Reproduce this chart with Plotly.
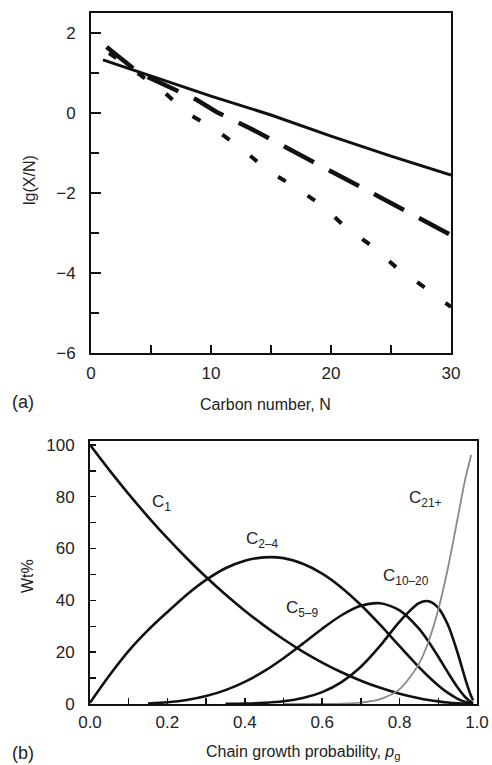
import plotly.graph_objects as go

# ---------------- panel (a) data ----------------
solid_N = [1, 5, 10, 15, 20, 25, 30]
solid_y = [1.33, 0.92, 0.42, -0.05, -0.58, -1.08, -1.55]

dash_N = [1.3, 4, 8.8, 10.5, 13.25, 16.5, 20.8, 25, 30]
dash_y = [1.65, 1.0, 0.33, 0.02, -0.38, -0.9, -1.6, -2.28, -3.05]

dot_N = [1.5, 6, 8, 10.3, 12.6, 14.8, 17, 19.2, 21.2, 23.3, 25.6, 28, 30]
dot_y = [1.5, 0.55, 0.0, -0.4, -0.9, -1.45, -1.85, -2.3, -2.85, -3.3, -3.9, -4.4, -4.85]

# ---------------- panel (b) data ----------------
alpha = [0.0, 0.05, 0.1, 0.15, 0.2, 0.25, 0.3, 0.35, 0.4, 0.45, 0.5, 0.55, 0.6,
         0.65, 0.7, 0.75, 0.8, 0.85, 0.875, 0.9, 0.925, 0.95, 0.97, 0.985, 0.99]
c1 = [100, 90.25, 81, 72.25, 64, 56.25, 49, 42.25, 36, 30.25, 25, 20.25, 16,
      12.25, 9, 6.25, 4, 2.25, 1.56, 1.0, 0.56, 0.25, 0.09, 0.02, 0.01]
c2_4 = [0.5, 11, 20.5, 28.5, 35.5, 42.2, 47.9, 52.4, 55.3, 56.6, 56.3, 54.1, 50.3,
        44.9, 38.2, 30.5, 22.3, 14.2, 10.5, 7.15, 4.27, 2.01, 0.76, 0.20, 0.09]
c5_9 = [None, None, None, 0.22, 0.67, 1.56, 3.06, 5.35, 8.54, 12.67, 17.68, 23.3, 29.06,
        34.25, 37.89, 38.88, 36.15, 29.09, 24.04, 18.24, 12.13, 6.35, 2.60, 0.72, 0.33]
c10_20 = [None, None, None, None, None, None, None, 0.05, 0.17, 0.45, 1.07, 2.32, 4.60,
          8.45, 14.37, 22.5, 31.82, 38.93, 39.67, 37.14, 30.47, 19.69, 9.54, 2.98, 1.42]
c21 = [None, None, None, None, None, None, None, None, None, None, 0.0, 0.01, 0.03,
       0.15, 0.56, 1.90, 5.76, 15.5, 24.22, 36.47, 52.57, 71.7, 87.01, 96.09, None]

FONT = "Liberation Sans, Arial, Helvetica, sans-serif"
INK = "#111111"
TXT = "#222222"
W, H = 492, 765


def fx(px):
    return px / W


def fy(py):
    return 1 - py / H


fig = go.Figure()

fig.add_trace(go.Scatter(x=solid_N, y=solid_y, mode="lines",
                         line=dict(color=INK, width=3), xaxis="x", yaxis="y"))
fig.add_trace(go.Scatter(x=dash_N, y=dash_y, mode="lines",
                         line=dict(color=INK, width=4.5, dash="34px,17px"), xaxis="x", yaxis="y"))
fig.add_trace(go.Scatter(x=dot_N, y=dot_y, mode="lines",
                         line=dict(color=INK, width=4, dash="9px,26px"), xaxis="x", yaxis="y"))

for ys in (c1, c2_4, c5_9, c10_20):
    fig.add_trace(go.Scatter(x=alpha, y=ys, mode="lines",
                             line=dict(color=INK, width=2.6, shape="spline", smoothing=0.8),
                             xaxis="x2", yaxis="y2"))
fig.add_trace(go.Scatter(x=alpha, y=c21, mode="lines",
                         line=dict(color="#8a8a8a", width=1.8, shape="spline", smoothing=0.8),
                         xaxis="x2", yaxis="y2"))

tickfont = dict(family=FONT, size=17, color=TXT)
common = dict(showline=True, linecolor=INK, linewidth=2, mirror=True, showgrid=False,
              zeroline=False, ticks="inside", tickcolor=INK, tickwidth=1.5,
              tickfont=tickfont, automargin=False, ticklabeloverflow="allow")

fig.update_layout(
    template="none",
    width=W, height=H, margin=dict(l=0, r=0, t=0, b=0, pad=0, autoexpand=False),
    paper_bgcolor="white", plot_bgcolor="white", showlegend=False,
    xaxis=dict(domain=[fx(91), fx(451)], range=[0, 30], anchor="y",
               tick0=0, dtick=10, ticklen=8,
               minor=dict(dtick=5, ticks="inside", ticklen=8, tickcolor=INK, tickwidth=1.5),
               ticklabelstandoff=4, **common),
    yaxis=dict(domain=[fy(353), fy(13)], range=[-6, 2.5], anchor="x",
               tick0=0, dtick=2, ticklen=10,
               minor=dict(dtick=1, ticks="inside", ticklen=8, tickcolor=INK, tickwidth=1.5),
               ticklabelstandoff=10, **common),
    xaxis2=dict(domain=[fx(90), fx(477)], range=[0, 1], anchor="y2",
                tick0=0, dtick=0.2, tickformat=".1f", ticklen=6,
                minor=dict(dtick=0.1, ticks="inside", ticklen=6, tickcolor=INK, tickwidth=1.5),
                ticklabelstandoff=2, **common),
    yaxis2=dict(domain=[fy(704), fy(441)], range=[0, 101.5], anchor="x2",
                tick0=0, dtick=20, ticklen=6,
                minor=dict(dtick=10, ticks="inside", ticklen=6, tickcolor=INK, tickwidth=1.5),
                ticklabelstandoff=10, **common),
)


def paper_text(text, px, py, angle=0, size=17):
    fig.add_annotation(text=text, x=fx(px), y=fy(py), xref="paper", yref="paper",
                       showarrow=False, textangle=angle, xanchor="center", yanchor="middle",
                       font=dict(family=FONT, size=size, color=TXT))


paper_text("lg(X/N)", 29, 180, angle=-90, size=16)
paper_text("Carbon number, N", 265, 404, size=16)
paper_text("(a)", 23, 402, size=18)
paper_text("Wt%", 27, 576, angle=-90, size=16)
paper_text("Chain growth probability, <i>p</i><sub>g</sub>", 303, 752, size=16)
paper_text("(b)", 23, 753, size=18)

labels = [("C<sub>1</sub>", 0.186, 77.6),
          ("C<sub>2–4</sub>", 0.447, 63.3),
          ("C<sub>5–9</sub>", 0.548, 36.7),
          ("C<sub>10–20</sub>", 0.817, 49.0),
          ("C<sub>21+</sub>", 0.866, 79.0)]
for t, x, y in labels:
    fig.add_annotation(text=t, x=x, y=y, xref="x2", yref="y2", showarrow=False,
                       xanchor="center", yanchor="middle",
                       font=dict(family=FONT, size=17, color=TXT))

fig.write_html(
    "out.html",
    config={"displayModeBar": False, "staticPlot": True},
    post_script="document.body.style.margin='0';document.body.style.overflow='hidden';",
)
